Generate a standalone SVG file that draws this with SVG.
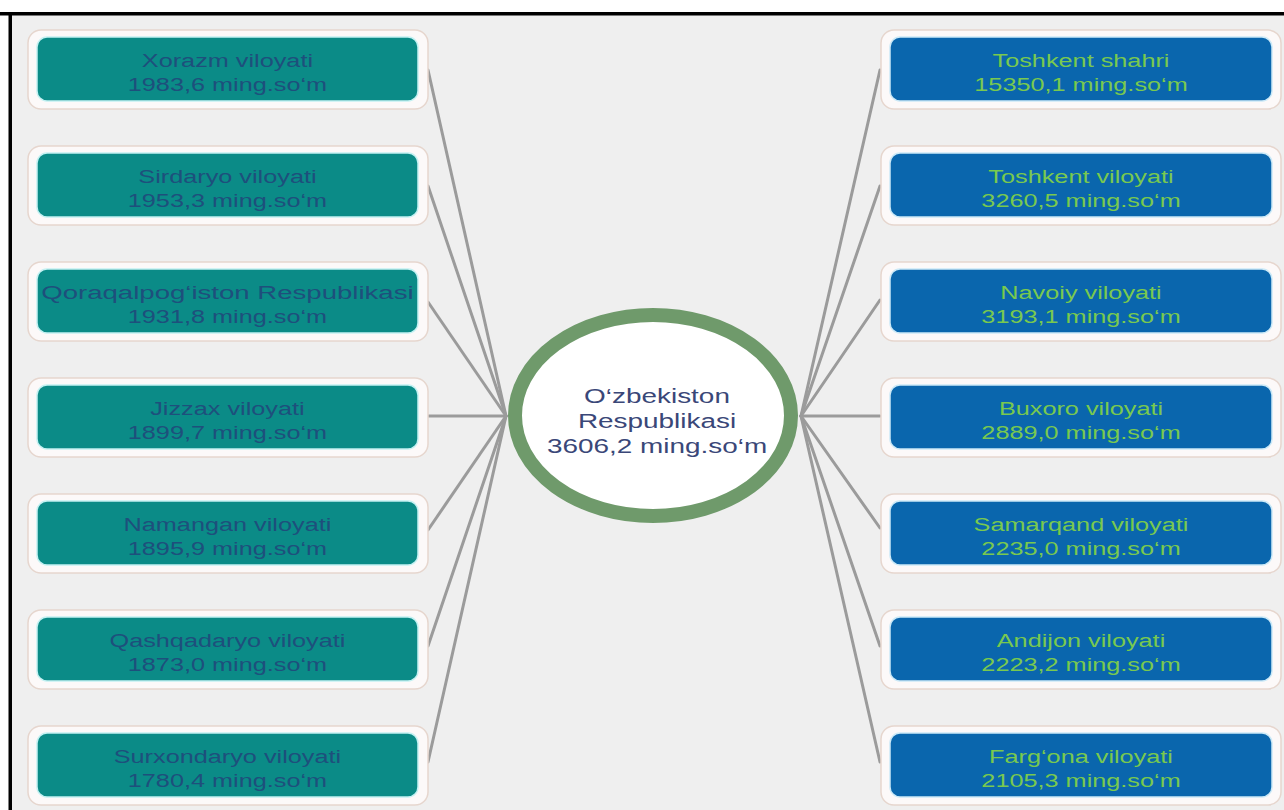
<svg xmlns="http://www.w3.org/2000/svg" width="1284" height="810" viewBox="0 0 1284 810">
  <style>
    .frame { fill: #fcf9f9; stroke: #e6d6ce; stroke-width: 1.5; }
    .teal { fill: #0b8b87; stroke: #c4f1f2; stroke-width: 1.5; }
    .blue { fill: #0a66ad; stroke: #cbe9f7; stroke-width: 1.5; }
    .lt { font-family: "Liberation Sans", Arial, sans-serif; font-size: 19px; fill: #1e4f7c; text-anchor: middle; }
    .rt { font-family: "Liberation Sans", Arial, sans-serif; font-size: 19px; fill: #79c94f; text-anchor: middle; }
    .ct { font-family: "Liberation Sans", Arial, sans-serif; font-size: 21px; fill: #3a4778; text-anchor: middle; }
    .link { stroke: #9b9b9b; stroke-width: 3; fill: none; stroke-linecap: round; }
  </style>

  <!-- page and frame -->
  <rect x="0" y="0" width="1284" height="810" fill="#ffffff"/>
  <rect x="10" y="14" width="1274" height="796" fill="#efefef"/>
  <rect x="0" y="12" width="1284" height="3.5" fill="#000000"/>
  <rect x="8.5" y="12" width="3.5" height="798" fill="#000000"/>

  <!-- connectors -->
  <g id="connectors">
    <line class="link" x1="428" y1="70" x2="506" y2="416"/>
    <line class="link" x1="428" y1="186" x2="506" y2="416"/>
    <line class="link" x1="428" y1="302" x2="506" y2="416"/>
    <line class="link" x1="428" y1="416" x2="506" y2="416"/>
    <line class="link" x1="428" y1="530" x2="506" y2="416"/>
    <line class="link" x1="428" y1="646" x2="506" y2="416"/>
    <line class="link" x1="428" y1="762" x2="506" y2="416"/>
    <line class="link" x1="880" y1="70" x2="801" y2="416"/>
    <line class="link" x1="880" y1="186" x2="801" y2="416"/>
    <line class="link" x1="880" y1="300" x2="801" y2="416"/>
    <line class="link" x1="880" y1="416" x2="801" y2="416"/>
    <line class="link" x1="880" y1="528" x2="801" y2="416"/>
    <line class="link" x1="880" y1="646" x2="801" y2="416"/>
    <line class="link" x1="880" y1="762" x2="801" y2="416"/>
  </g>

  <!-- hub -->
  <g id="hub">
    <ellipse cx="653" cy="415.5" rx="138" ry="100.5" fill="#ffffff" stroke="#6f9a6b" stroke-width="14"/>
    <g transform="scale(1.33 1)">
      <text class="ct" x="494" y="403">O‘zbekiston</text>
      <text class="ct" x="494" y="428">Respublikasi</text>
      <text class="ct" x="494" y="453">3606,2 ming.so‘m</text>
    </g>
  </g>

  <!-- left column -->
  <g id="xorazm">
    <rect class="frame" x="28" y="30" width="400" height="79" rx="13"/>
    <rect class="teal" x="37" y="37" width="381" height="64" rx="10"/>
    <g transform="scale(1.33 1)">
      <text class="lt" x="171" y="67">Xorazm viloyati</text>
      <text class="lt" x="171" y="91">1983,6 ming.so‘m</text>
    </g>
  </g>
  <g id="sirdaryo">
    <rect class="frame" x="28" y="146" width="400" height="79" rx="13"/>
    <rect class="teal" x="37" y="153" width="381" height="64" rx="10"/>
    <g transform="scale(1.33 1)">
      <text class="lt" x="171" y="183">Sirdaryo viloyati</text>
      <text class="lt" x="171" y="207">1953,3 ming.so‘m</text>
    </g>
  </g>
  <g id="qoraqalpogiston">
    <rect class="frame" x="28" y="262" width="400" height="79" rx="13"/>
    <rect class="teal" x="37" y="269" width="381" height="64" rx="10"/>
    <g transform="scale(1.33 1)">
      <text class="lt" x="171" y="299" textLength="280" lengthAdjust="spacingAndGlyphs">Qoraqalpog‘iston Respublikasi</text>
      <text class="lt" x="171" y="323">1931,8 ming.so‘m</text>
    </g>
  </g>
  <g id="jizzax">
    <rect class="frame" x="28" y="378" width="400" height="79" rx="13"/>
    <rect class="teal" x="37" y="385" width="381" height="64" rx="10"/>
    <g transform="scale(1.33 1)">
      <text class="lt" x="171" y="415">Jizzax viloyati</text>
      <text class="lt" x="171" y="439">1899,7 ming.so‘m</text>
    </g>
  </g>
  <g id="namangan">
    <rect class="frame" x="28" y="494" width="400" height="79" rx="13"/>
    <rect class="teal" x="37" y="501" width="381" height="64" rx="10"/>
    <g transform="scale(1.33 1)">
      <text class="lt" x="171" y="531">Namangan viloyati</text>
      <text class="lt" x="171" y="555">1895,9 ming.so‘m</text>
    </g>
  </g>
  <g id="qashqadaryo">
    <rect class="frame" x="28" y="610" width="400" height="79" rx="13"/>
    <rect class="teal" x="37" y="617" width="381" height="64" rx="10"/>
    <g transform="scale(1.33 1)">
      <text class="lt" x="171" y="647">Qashqadaryo viloyati</text>
      <text class="lt" x="171" y="671">1873,0 ming.so‘m</text>
    </g>
  </g>
  <g id="surxondaryo">
    <rect class="frame" x="28" y="726" width="400" height="79" rx="13"/>
    <rect class="teal" x="37" y="733" width="381" height="64" rx="10"/>
    <g transform="scale(1.33 1)">
      <text class="lt" x="171" y="763">Surxondaryo viloyati</text>
      <text class="lt" x="171" y="787">1780,4 ming.so‘m</text>
    </g>
  </g>

  <!-- right column -->
  <g id="toshkent-shahri">
    <rect class="frame" x="881" y="30" width="400" height="79" rx="13"/>
    <rect class="blue" x="890" y="37" width="382" height="64" rx="10"/>
    <g transform="scale(1.33 1)">
      <text class="rt" x="812.8" y="67">Toshkent shahri</text>
      <text class="rt" x="812.8" y="91">15350,1 ming.so‘m</text>
    </g>
  </g>
  <g id="toshkent-viloyati">
    <rect class="frame" x="881" y="146" width="400" height="79" rx="13"/>
    <rect class="blue" x="890" y="153" width="382" height="64" rx="10"/>
    <g transform="scale(1.33 1)">
      <text class="rt" x="812.8" y="183">Toshkent viloyati</text>
      <text class="rt" x="812.8" y="207">3260,5 ming.so‘m</text>
    </g>
  </g>
  <g id="navoiy">
    <rect class="frame" x="881" y="262" width="400" height="79" rx="13"/>
    <rect class="blue" x="890" y="269" width="382" height="64" rx="10"/>
    <g transform="scale(1.33 1)">
      <text class="rt" x="812.8" y="299">Navoiy viloyati</text>
      <text class="rt" x="812.8" y="323">3193,1 ming.so‘m</text>
    </g>
  </g>
  <g id="buxoro">
    <rect class="frame" x="881" y="378" width="400" height="79" rx="13"/>
    <rect class="blue" x="890" y="385" width="382" height="64" rx="10"/>
    <g transform="scale(1.33 1)">
      <text class="rt" x="812.8" y="415">Buxoro viloyati</text>
      <text class="rt" x="812.8" y="439">2889,0 ming.so‘m</text>
    </g>
  </g>
  <g id="samarqand">
    <rect class="frame" x="881" y="494" width="400" height="79" rx="13"/>
    <rect class="blue" x="890" y="501" width="382" height="64" rx="10"/>
    <g transform="scale(1.33 1)">
      <text class="rt" x="812.8" y="531">Samarqand viloyati</text>
      <text class="rt" x="812.8" y="555">2235,0 ming.so‘m</text>
    </g>
  </g>
  <g id="andijon">
    <rect class="frame" x="881" y="610" width="400" height="79" rx="13"/>
    <rect class="blue" x="890" y="617" width="382" height="64" rx="10"/>
    <g transform="scale(1.33 1)">
      <text class="rt" x="812.8" y="647">Andijon viloyati</text>
      <text class="rt" x="812.8" y="671">2223,2 ming.so‘m</text>
    </g>
  </g>
  <g id="fargona">
    <rect class="frame" x="881" y="726" width="400" height="79" rx="13"/>
    <rect class="blue" x="890" y="733" width="382" height="64" rx="10"/>
    <g transform="scale(1.33 1)">
      <text class="rt" x="812.8" y="763">Farg‘ona viloyati</text>
      <text class="rt" x="812.8" y="787">2105,3 ming.so‘m</text>
    </g>
  </g>
</svg>
